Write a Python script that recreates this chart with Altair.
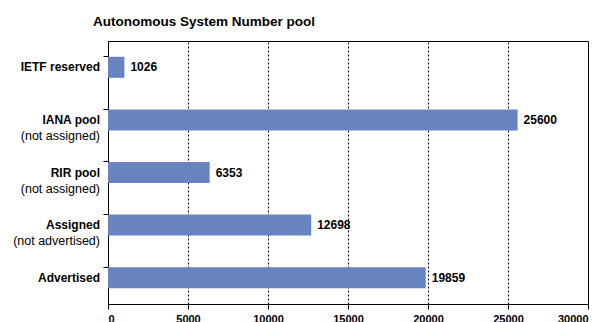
import altair as alt
import pandas as pd

categories = ["IETF reserved", "IANA pool", "RIR pool", "Assigned", "Advertised"]
sublabels = ["", "(not assigned)", "(not assigned)", "(not advertised)", ""]
values = [1026, 25600, 6353, 12698, 19859]
x_ticks = [0, 5000, 10000, 15000, 20000, 25000, 30000]

df = pd.DataFrame({"cat": categories, "sub": sublabels, "value": values})
FONT = "Liberation Sans"

y_enc = alt.Y("cat:N", sort=categories,
              scale=alt.Scale(paddingInner=0.6, paddingOuter=0.3),
              axis=alt.Axis(title=None, labels=False, ticks=True, tickSize=5,
                            bandPosition=0, domainColor="black", tickColor="black",
                            grid=False))

x_enc = alt.X("value:Q",
              scale=alt.Scale(domain=[0, 30000], nice=False),
              axis=alt.Axis(title=None, values=x_ticks, grid=True, gridColor="black",
                            gridDash=[2, 2], gridWidth=1, domainColor="black",
                            tickColor="black", tickSize=5, labelFont=FONT,
                            labelFontWeight="bold", labelFontSize=11, labelPadding=4,
                            labelColor="black", format="d"))

base = alt.Chart(df)

bars = base.mark_bar(color="#6884C0").encode(x=x_enc, y=y_enc)

vals = base.mark_text(align="left", baseline="middle", dx=6, font=FONT,
                      fontWeight="bold", fontSize=12, color="black").encode(
    x="value:Q", y=alt.Y("cat:N", sort=categories), text="value:Q")

lab1 = base.mark_text(align="right", baseline="middle", dx=-8, font=FONT,
                      fontWeight="bold", fontSize=12, color="black").encode(
    x=alt.value(0), y=alt.Y("cat:N", sort=categories), text="cat:N")

lab2 = base.mark_text(align="right", baseline="middle", dx=-8, dy=16, font=FONT,
                      fontWeight="normal", fontSize=12.5, color="black").encode(
    x=alt.value(0), y=alt.Y("cat:N", sort=categories), text="sub:N")

chart = alt.layer(bars, vals, lab1, lab2).properties(
    width=480, height=263,
    title=alt.TitleParams("Autonomous System Number pool", anchor="start", frame="group",
                          dx=-15, font=FONT, fontSize=13.5, fontWeight="bold",
                          color="black", offset=13),
    autosize=alt.AutoSizeParams(type="none"),
    padding={"left": 108, "top": 41, "right": 23, "bottom": 18},
    background="white",
).configure_view(stroke="black", strokeWidth=1)

chart.save("out.html", embed_options={"renderer": "svg", "actions": False})
